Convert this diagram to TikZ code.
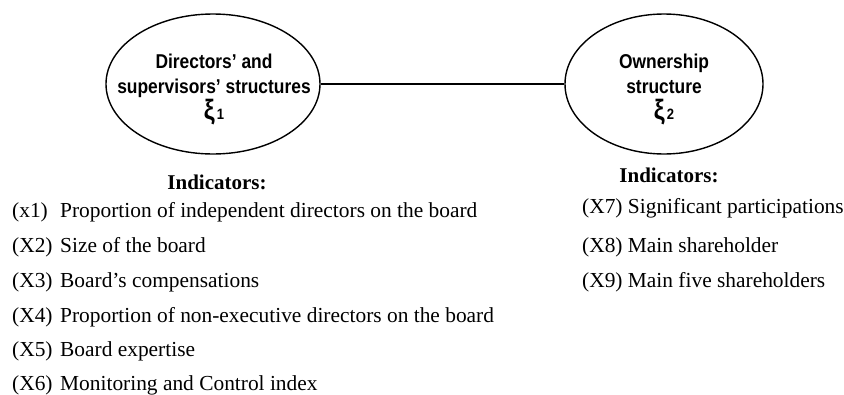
\documentclass[tikz,border=0pt]{standalone}
\usepackage{fontspec}
\usepackage{graphicx}
\setmainfont{Liberation Serif}
\setsansfont{Liberation Sans}
\usetikzlibrary{shapes.geometric}
\newcommand{\narrow}[1]{\scalebox{0.87}[1]{#1}}
\newcommand{\latent}[1]{{\fontsize{28}{28}\selectfont ξ}{\fontsize{15}{15}\selectfont\,#1}}
\begin{document}
\begin{tikzpicture}[x=1pt,y=-1pt,
  construct/.style={draw, ellipse, line width=1.4pt, inner sep=0pt},
  constructtext/.style={align=center, font=\sffamily\bfseries\fontsize{20}{25}\selectfont},
  heading/.style={font=\bfseries\fontsize{21}{24}\selectfont},
  item/.style={anchor=west, font=\fontsize{21.4}{24}\selectfont, inner sep=0pt},
  link/.style={line width=1.4pt}]
\useasboundingbox (0,0) rectangle (844,394);

% latent constructs
\node[construct, minimum width=214, minimum height=140] (dir) at (213,84) {};
\node[construct, minimum width=198, minimum height=140] (own) at (664,84) {};
\node[constructtext] (dirtxt) at (214,89) {\narrow{Directors’ and}\\\narrow{supervisors’ structures}\\[1pt]\narrow{\latent{1}}};
\node[constructtext] (owntxt) at (664,89) {\narrow{Ownership}\\\narrow{structure}\\[1pt]\narrow{\latent{2}}};

% correlation between the constructs
\draw[link] (dir.east) -- (own.west);

% indicators of the first construct
\node[heading] (h1) at (217,182) {Indicators:};
\node[item] (x1) at (12,212) {\makebox[48pt][l]{(x1)}Proportion of independent directors on the board};
\node[item] (x2) at (12,247) {\makebox[48pt][l]{(X2)}Size of the board};
\node[item] (x3) at (12,282) {\makebox[48pt][l]{(X3)}Board’s compensations};
\node[item] (x4) at (12,317) {\makebox[48pt][l]{(X4)}Proportion of non-executive directors on the board};
\node[item] (x5) at (12,351) {\makebox[48pt][l]{(X5)}Board expertise};
\node[item] (x6) at (12,385) {\makebox[48pt][l]{(X6)}Monitoring and Control index};

% indicators of the second construct
\node[heading] (h2) at (669,175) {Indicators:};
\node[item] (x7) at (582,208) {(X7) Significant participations};
\node[item] (x8) at (582,247) {(X8) Main shareholder};
\node[item] (x9) at (582,282) {(X9) Main five shareholders};
\end{tikzpicture}
\end{document}
